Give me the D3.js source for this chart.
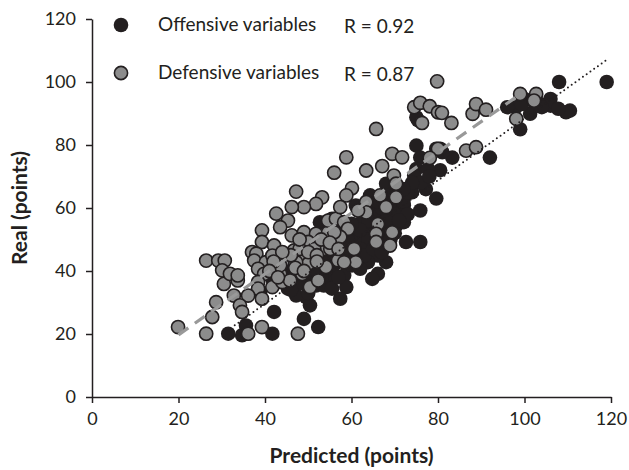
<!DOCTYPE html>
<html>
<head>
<meta charset="utf-8">
<script src="https://cdn.jsdelivr.net/npm/d3@7"></script>
<style>
  body { margin: 0; background: #fff; }
  svg text { font-family: Lato, "Open Sans", sans-serif; fill: #231f20; }
</style>
</head>
<body>
<div id="chart"></div>
<script>
// offensive variables (black)
const offX = [119, 108, 110.5, 109.6, 106, 103.6, 106, 107.8, 98, 100, 101.3, 99, 99.4, 102.2,
  92, 80.5, 83.3, 81, 79.6, 75, 75.4, 75, 75.9, 75, 74.5, 77.2, 74, 79.6, 75.9, 75.9, 72.6,
  71.2, 70.3, 71.7, 69.4, 68, 66.1, 64.3, 64.8, 61, 61.5, 62.4, 66.6, 67.5, 68, 68, 66.1,
  66.1, 64.8, 63.8, 62.9, 62, 60.1, 59.2, 58.8, 58.3, 58.8, 57.4, 56.4, 55.5, 54.6, 52.7,
  52.7, 52.3, 50.9, 49, 50.4, 49.5, 47.2, 46.7, 45.3, 44, 42.6, 41.7, 40.7, 42.1, 41.7,
  35.6, 34.7, 31.5, 38.9, 49, 50.9, 52.7, 54.6, 55.5, 56.4, 60.1, 62, 69.4, 72.1, 72.1,
  70.3, 67.5, 57.4, 58.3, 50, 51.8, 53.6, 55.5, 45.3, 43.5, 47.2, 49, 63.8, 65.7, 68.5,
  71.2, 80.5, 77.7,
  63, 65, 67, 69, 70, 72, 73, 68, 66, 64, 62, 60, 58, 56, 54, 53, 57, 61, 63, 65, 67, 69,
  70, 71, 73, 70, 68, 66, 64, 62, 60, 59, 56, 55, 53, 51, 48, 46, 44, 48, 50, 52, 76, 78,
  74, 72, 96, 104];
const offY = [100, 100, 90.9, 90.4, 94.6, 93, 92.5, 91.5, 92, 94.6, 89.9, 85, 93, 93.6,
  76, 72, 76, 77.7, 78.8, 79.8, 87.8, 88.8, 76, 72.4, 70.3, 66, 65, 63, 59.2, 49.2, 49.2,
  59.7, 61.9, 63, 57.6, 67.7, 57.6, 64, 60.8, 60.8, 53.4, 55.5, 61.9, 51.3, 49.2, 42.8, 44.9,
  39.1, 37.5, 42.8, 46, 49.2, 51.3, 47, 42.8, 38.6, 34.9, 31.2, 44.9, 40.7, 37.5, 55.5,
  36.5, 22.2, 39.6, 24.8, 29.1, 31.7, 32.2, 36.5, 39.1, 41.8, 40.7, 37.5, 41.8, 27, 20.1,
  22.7, 19.6, 20.1, 33.3, 47, 44.9, 42.8, 51.3, 56.6, 49.2, 41.8, 40.7, 61.9, 60.8, 55.5,
  54.4, 55.5, 53.4, 49.2, 38.6, 35.4, 35.4, 34.4, 34.4, 36.5, 39.6, 38.6, 52.4, 51.3, 58.6,
  65, 78.8, 72.4,
  56, 58, 60, 62, 58, 62, 58, 56, 52, 50, 47, 45, 46, 42, 40, 38, 38, 44, 45, 47, 46, 50,
  52, 56, 65, 65, 64, 62, 56, 53, 55, 50, 47, 45, 44, 42, 36, 34, 38, 42, 33, 40, 68, 70,
  68, 66, 92, 92];

// defensive variables (grey)
const defX = [79.8, 74.5, 75.9, 78.1, 80, 80.9, 76.3, 83.1, 65.7, 88, 88.8, 91.1, 98.1, 99,
  102.7, 102.2, 80, 78.1, 86.5, 88.8, 69.4, 71.7, 58.8, 63.4, 56, 67.1, 69.8, 70.3, 60.1,
  58.8, 53.2, 51.8, 49, 46.2, 47.2, 42.6, 45.3, 43.5, 39.3, 39.3, 42.1, 37, 38, 37.5, 40.2,
  38.4, 39.8, 38.4, 38.4, 39.3, 41.7, 43.5, 44.4, 46.2, 49, 51.8, 54.6, 52.7, 54.6, 56.4,
  58.3, 57.4, 59.2, 60.6, 61, 57.4, 53.6, 49.5, 50, 50, 46.7, 47.2, 45.3, 44, 45.8, 48.6,
  50.4, 52.3, 54.1, 56.9, 58.3, 63.4, 66.6, 68, 66.1, 65.7, 65.7, 69.4, 68.9, 70.3, 63.4,
  61.5, 26.4, 29.2, 30.7, 30.1, 30.5, 31.9, 33.7, 33.7, 32.8, 28.7, 36.1, 34.2, 34.7, 27.8,
  19.9, 26.4, 36.1, 39.3, 47.6, 44, 41.7, 43.5, 51.4, 56, 55.1,
  48, 50, 52, 46, 44, 42, 48, 53, 55, 57, 41, 43, 47, 49, 52];
const defY = [100.2, 92, 93.4, 92.3, 90.4, 90.2, 87, 87, 85.1, 89.9, 93, 91.2, 88.3, 96.2,
  96.2, 94.1, 78.8, 75.9, 78.2, 79.3, 77.2, 76.1, 76.1, 71.9, 71.2, 73.3, 70.3, 67.7, 66.3,
  64, 63.4, 61.3, 60.3, 60.3, 65.2, 58.2, 56, 53.9, 52.9, 49.2, 48.1, 46, 45.5, 43.3, 42.8,
  40.7, 39.1, 36.5, 34.4, 31.2, 34.9, 39.1, 44.9, 51.3, 52.3, 51.8, 52.3, 49.2, 56, 56.6,
  55.5, 60.3, 53.4, 47, 42.8, 50.8, 47, 44.9, 42.3, 49.2, 46.5, 42.8, 43.9, 36.5, 37, 39.1,
  34.9, 37, 41.3, 43.4, 42.8, 61.9, 64, 60.3, 54.9, 51.8, 49.2, 52.3, 48.1, 63.4, 58.6,
  59.2, 43.3, 43.3, 43.3, 40.2, 35.9, 39.1, 37, 38.6, 32.2, 30.1, 32.2, 29.1, 27, 25.4,
  22.2, 20.1, 20.1, 22.2, 20.1, 42.8, 44.9, 41.8, 47, 52.3, 47,
  47, 46, 45, 45, 46, 43, 50, 50, 49, 47, 40, 38, 41, 40, 43];

// fitted lines: [slope, intercept, xStart, xEnd]
const offFit = [0.98, -9.6, 33, 119.5];
const defFit = [0.967, 0.4, 20, 98];

const xTicks = [0, 20, 40, 60, 80, 100, 120];
const yTicks = [0, 20, 40, 60, 80, 100, 120];
const seriesNames = ["Offensive variables", "Defensive variables"];
const rLabels = ["R = 0.92", "R = 0.87"];

const W = 629, H = 470;
const margin = { top: 19, right: 18, bottom: 73, left: 92 };
const width = W - margin.left - margin.right,
  height = H - margin.top - margin.bottom;

const svg = d3.select("#chart").append("svg")
  .attr("width", W).attr("height", H);
const g = svg.append("g")
  .attr("transform", "translate(" + margin.left + "," + margin.top + ")");

const x = d3.scaleLinear().domain([0, 120]).range([0, width]);
const y = d3.scaleLinear().domain([0, 120]).range([height, 0]);

const xAxis = g.append("g")
  .attr("transform", "translate(0," + height + ")")
  .call(d3.axisBottom(x).tickValues(xTicks).tickSize(6).tickPadding(9).tickSizeOuter(0));
const yAxis = g.append("g")
  .call(d3.axisLeft(y).tickValues(yTicks).tickSize(6).tickPadding(10).tickSizeOuter(0));

[xAxis, yAxis].forEach(a => {
  a.select(".domain").attr("stroke", "#231f20").attr("stroke-width", 1.5);
  a.selectAll(".tick line").attr("stroke", "#231f20").attr("stroke-width", 1.5);
  a.selectAll(".tick text").style("font-size", "18px").attr("fill", "#231f20")
    .style("font-family", "Lato, sans-serif");
});

const black = "#231f20", grey = "#8c8c8c";

const offData = offX.map((v, i) => ({ x: v, y: offY[i] }));
const defData = defX.map((v, i) => ({ x: v, y: defY[i] }));

g.selectAll(".off").data(offData).enter().append("circle")
  .attr("class", "off")
  .attr("cx", d => x(d.x)).attr("cy", d => y(d.y))
  .attr("r", 7.3).attr("fill", black);

g.selectAll(".def").data(defData).enter().append("circle")
  .attr("class", "def")
  .attr("cx", d => x(d.x)).attr("cy", d => y(d.y))
  .attr("r", 6.6).attr("fill", grey)
  .attr("stroke", black).attr("stroke-width", 1.6);

function fitLine(f) {
  return [[f[2], f[0] * f[2] + f[1]], [f[3], f[0] * f[3] + f[1]]];
}
const line = d3.line().x(d => x(d[0])).y(d => y(d[1]));

g.append("path").attr("d", line(fitLine(defFit)))
  .attr("fill", "none").attr("stroke", "#999")
  .attr("stroke-width", 3.2).attr("stroke-dasharray", "12,8");

g.append("path").attr("d", line(fitLine(offFit)))
  .attr("fill", "none").attr("stroke", black)
  .attr("stroke-width", 2).attr("stroke-linecap", "round")
  .attr("stroke-dasharray", "0,4.6");

// legend
const legY = [25, 73];
seriesNames.forEach((name, i) => {
  svg.append("circle").attr("cx", 121).attr("cy", legY[i]).attr("r", i ? 6.6 : 7.3)
    .attr("fill", i ? grey : black)
    .attr("stroke", i ? black : "none").attr("stroke-width", 1.6);
  svg.append("text").attr("x", 158).attr("y", legY[i] + 6)
    .style("font-size", "19px").text(name);
  svg.append("text").attr("x", 344).attr("y", legY[i] + 8)
    .style("font-size", "19px").text(rLabels[i]);
});

// axis titles
svg.append("text")
  .attr("x", margin.left + width / 2).attr("y", 463)
  .attr("text-anchor", "middle")
  .style("font-size", "21px").style("font-weight", "bold")
  .text("Predicted (points)");
svg.append("text")
  .attr("transform", "translate(27," + (margin.top + height / 2) + ") rotate(-90)")
  .attr("text-anchor", "middle")
  .style("font-size", "21px").style("font-weight", "bold")
  .text("Real (points)");
</script>
</body>
</html>
